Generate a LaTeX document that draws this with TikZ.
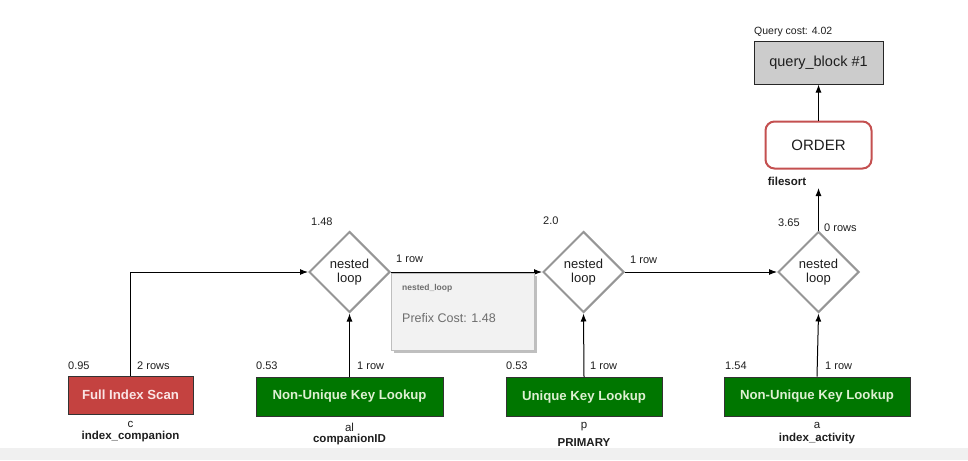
\documentclass[tikz,border=0pt]{standalone}
\usepackage{fontspec}
\setmainfont{Liberation Sans}
\usetikzlibrary{shapes.geometric,arrows.meta}
\definecolor{redfill}{RGB}{196,66,64}
\definecolor{greenfill}{RGB}{0,118,0}
\definecolor{greentext}{RGB}{222,240,210}
\definecolor{redtext}{RGB}{250,228,228}
\definecolor{diagray}{RGB}{150,150,150}
\definecolor{ordred}{RGB}{196,80,80}
\definecolor{qgray}{RGB}{204,204,204}
\definecolor{bandgray}{RGB}{240,240,240}
\definecolor{tipfill}{RGB}{242,242,242}
\definecolor{tipborder}{RGB}{190,190,190}
\definecolor{tiptext}{RGB}{110,110,110}
\definecolor{txt}{RGB}{30,30,30}
\begin{document}
\begin{tikzpicture}[x=1pt,y=-1pt,
  lbl/.style={inner sep=0pt, anchor=west, text=txt, font=\fontsize{11}{12}\selectfont},
  sub/.style={inner sep=0pt, text=txt, font=\fontsize{11.5}{12}\selectfont},
  subb/.style={inner sep=0pt, text=txt, font=\bfseries\fontsize{11.5}{12}\selectfont},
  opbox/.style={draw=black!80, line width=0.8pt, inner sep=0pt, minimum height=39pt, font=\bfseries\fontsize{13.2}{14}\selectfont},
  redbox/.style={opbox, fill=redfill, text=redtext},
  greenbox/.style={opbox, fill=greenfill, text=greentext},
  nl/.style={diamond, draw=diagray, line width=2pt, fill=white, minimum width=81pt, minimum height=81pt, inner sep=0pt, aspect=1, align=center, text=txt, font=\fontsize{13}{14}\selectfont},
  arr/.style={draw=black, line width=1pt, -{Latex[length=8pt,width=6pt]}}
]
\useasboundingbox (0,0) rectangle (968,460);
\fill[bandgray] (0,448) rectangle (968,460);

% top
\node[draw=black!85, line width=1pt, fill=qgray, minimum width=129pt, minimum height=42pt, inner sep=0pt, text=txt, font=\fontsize{14.5}{14}\selectfont] (qb) at (818.5,63) {query\_block \#1};
\node[lbl, font=\fontsize{10.5}{12}\selectfont] (qc) at (754,32) {Query cost: 4.02};
\node[draw=ordred, line width=2pt, rounded corners=9pt, fill=white, minimum width=106pt, minimum height=47pt, inner sep=0pt, text=txt, font=\fontsize{15}{14}\selectfont] (ord) at (818.5,145) {ORDER};
\node[subb] (fs) at (787,181) {filesort};
\coordinate (fsend) at (818.5,188);

% diamonds
\node[nl] (d1) at (349.5,272) {nested\\loop};
\node[nl] (d2) at (583.5,272) {nested\\loop};
\node[nl] (d3) at (818.5,272) {nested\\loop};

% operation boxes
\node[redbox, minimum width=125pt, minimum height=38pt] (b1) at (130.5,395) {Full Index Scan};
\node[greenbox, minimum width=187pt] (b2) at (349.5,396.5) {Non-Unique Key Lookup};
\node[greenbox, minimum width=156pt] (b3) at (584,397) {Unique Key Lookup};
\node[greenbox, minimum width=186pt] (b4) at (817,396.5) {Non-Unique Key Lookup};

% connectors
\draw[arr] (b1.north) |- (d1.west);
\draw[arr] (b2.north) -- (d1.south);
\draw[arr] (d1.east) -- (d2.west);
\draw[arr] (b3.north) -- (d2.south);
\draw[arr] (d2.east) -- (d3.west);
\draw[arr] (b4.north) -- (d3.south);
\draw[arr] (d3.north) -- (fsend);
\draw[arr] (ord.north) -- (qb.south);

% cost / rows labels
\node[lbl] (l1) at (311,222) {1.48};
\node[lbl] (l2) at (396,259) {1 row};
\node[lbl] (l3) at (543,221) {2.0};
\node[lbl] (l4) at (630,260) {1 row};
\node[lbl] (l5) at (778,223) {3.65};
\node[lbl] (l6) at (824,228) {0 rows};
\node[lbl] (l7) at (68,366) {0.95};
\node[lbl] (l8) at (137,366) {2 rows};
\node[lbl] (l9) at (256,366) {0.53};
\node[lbl] (l10) at (357,366) {1 row};
\node[lbl] (l11) at (506,366) {0.53};
\node[lbl] (l12) at (590,366) {1 row};
\node[lbl] (l13) at (725,366) {1.54};
\node[lbl] (l14) at (825,366) {1 row};

% table / key labels
\node[sub] (t1) at (130.5,424) {c};
\node[subb] (k1) at (130.5,437) {index\_companion};
\node[sub] (t2) at (349.5,427) {al};
\node[subb] (k2) at (349.5,440) {companionID};
\node[sub] (t3) at (584,427) {p};
\node[subb] (k3) at (584,443) {PRIMARY};
\node[sub] (t4) at (817,425) {a};
\node[subb] (k4) at (817,439) {index\_activity};

% tooltip
\fill[black!25] (394,276) rectangle (537,353);
\draw[tipborder, fill=tipfill, line width=0.8pt] (391,273) rectangle (534,350);
\node[lbl, text=tiptext, font=\bfseries\fontsize{8.5}{10}\selectfont] (tt1) at (402,288) {nested\_loop};
\node[lbl, text=tiptext, font=\fontsize{12.5}{14}\selectfont] (tt2) at (402,318) {Prefix Cost: 1.48};
\end{tikzpicture}
\end{document}
